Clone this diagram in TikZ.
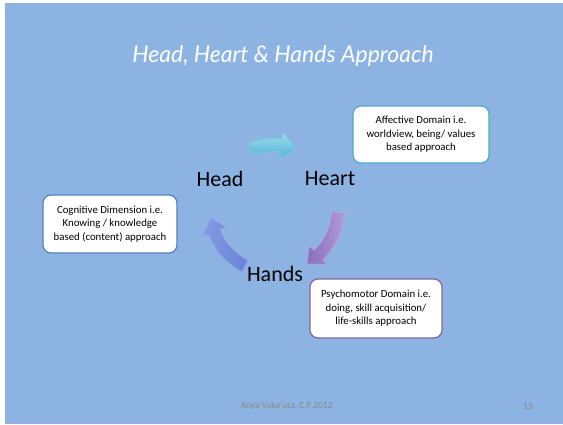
\documentclass[tikz,border=0pt]{standalone}
\usepackage{fontspec}
\setmainfont{Carlito}
\newfontfamily\titlefont{Lato}
\usepackage{tikz}
\usetikzlibrary{shapes,arrows,positioning}
\definecolor{slidebg}{RGB}{141,179,226}
\definecolor{cyanline}{RGB}{75,172,198}
\definecolor{blueline}{RGB}{79,129,189}
\definecolor{purpleline}{RGB}{128,100,162}
\definecolor{footgray}{RGB}{137,137,137}
\tikzstyle{cyanbox}=[rectangle, rounded corners=8pt, draw=cyanline, fill=white, line width=1.2pt, align=center, minimum width=136pt, minimum height=57pt, font=\fontsize{10.8}{13.5}\selectfont]
\tikzstyle{bluebox}=[rectangle, rounded corners=8pt, draw=blueline, fill=white, line width=1.2pt, align=center, minimum width=134pt, minimum height=58pt, font=\fontsize{10.8}{13.5}\selectfont]
\tikzstyle{purplebox}=[rectangle, rounded corners=8pt, draw=purpleline, fill=white, line width=1.2pt, align=center, minimum width=132pt, minimum height=59pt, font=\fontsize{10.8}{13.5}\selectfont]
\tikzstyle{bigword}=[font=\fontsize{22}{22}\selectfont]
\tikzstyle{cyanarrow}=[top color={rgb,255:red,160;green,220;blue,238}, bottom color={rgb,255:red,80;green,180;blue,215}, draw={rgb,255:red,120;green,200;blue,228}, line width=0.6pt]
\tikzstyle{purplearrow}=[left color={rgb,255:red,135;green,110;blue,190}, right color={rgb,255:red,175;green,155;blue,215}, draw={rgb,255:red,185;green,165;blue,225}, line width=0.6pt]
\tikzstyle{bluearrow}=[left color={rgb,255:red,135;green,155;blue,228}, right color={rgb,255:red,105;green,130;blue,215}, draw={rgb,255:red,150;green,170;blue,235}, line width=0.6pt]
% curved block arrow: start angle, tip angle, style
\newcommand{\cyclearrow}[3]{\path[#3] (#1:70.5) arc[start angle=#1, end angle=#2+13, radius=70.5] -- (#2+13:77) -- (#2:64) -- (#2+13:51) -- (#2+13:57.5) arc[start angle=#2+13, end angle=#1, radius=57.5] -- cycle;}

\begin{document}
\begin{tikzpicture}[x=1pt, y=1pt]

\useasboundingbox (0,0) rectangle (563,-424);
\fill[slidebg] (5,-3) rectangle (563,-424);

\node[white, font=\titlefont\itshape\fontsize{23}{23}\selectfont](title) at (283,-56) {Head, Heart \& Hands Approach};

\node[bigword](head) at (220,-179) {Head};
\node[bigword](heart) at (330,-179) {Heart};
\node[bigword](hands) at (275,-274) {Hands};

\node[cyanbox](affective) at (421,-134.5) {Affective Domain i.e.\\ worldview, being/ values\\ based approach};
\node[bluebox](cognitive) at (110,-224) {Cognitive Dimension i.e.\\ Knowing / knowledge\\ based (content) approach};
\node[purplebox](psycho) at (376,-308.5) {Psychomotor Domain i.e.\\ doing, skill acquisition/\\ life-skills approach};

\coordinate (c) at (274,-209);
\begin{scope}[shift={(c)}]
\cyclearrow{111}{70}{cyanarrow}
\cyclearrow{-3}{-59}{purplearrow}
\cyclearrow{-117}{-172}{bluearrow}
\end{scope}

\node[footgray, font=\fontsize{9.5}{9.5}\selectfont](foot) at (287,-406) {Koya Vaka'uta, C.F 2012};
\node[footgray, font=\fontsize{9.5}{9.5}\selectfont](page) at (528,-406) {13};

\end{tikzpicture}
\end{document}
